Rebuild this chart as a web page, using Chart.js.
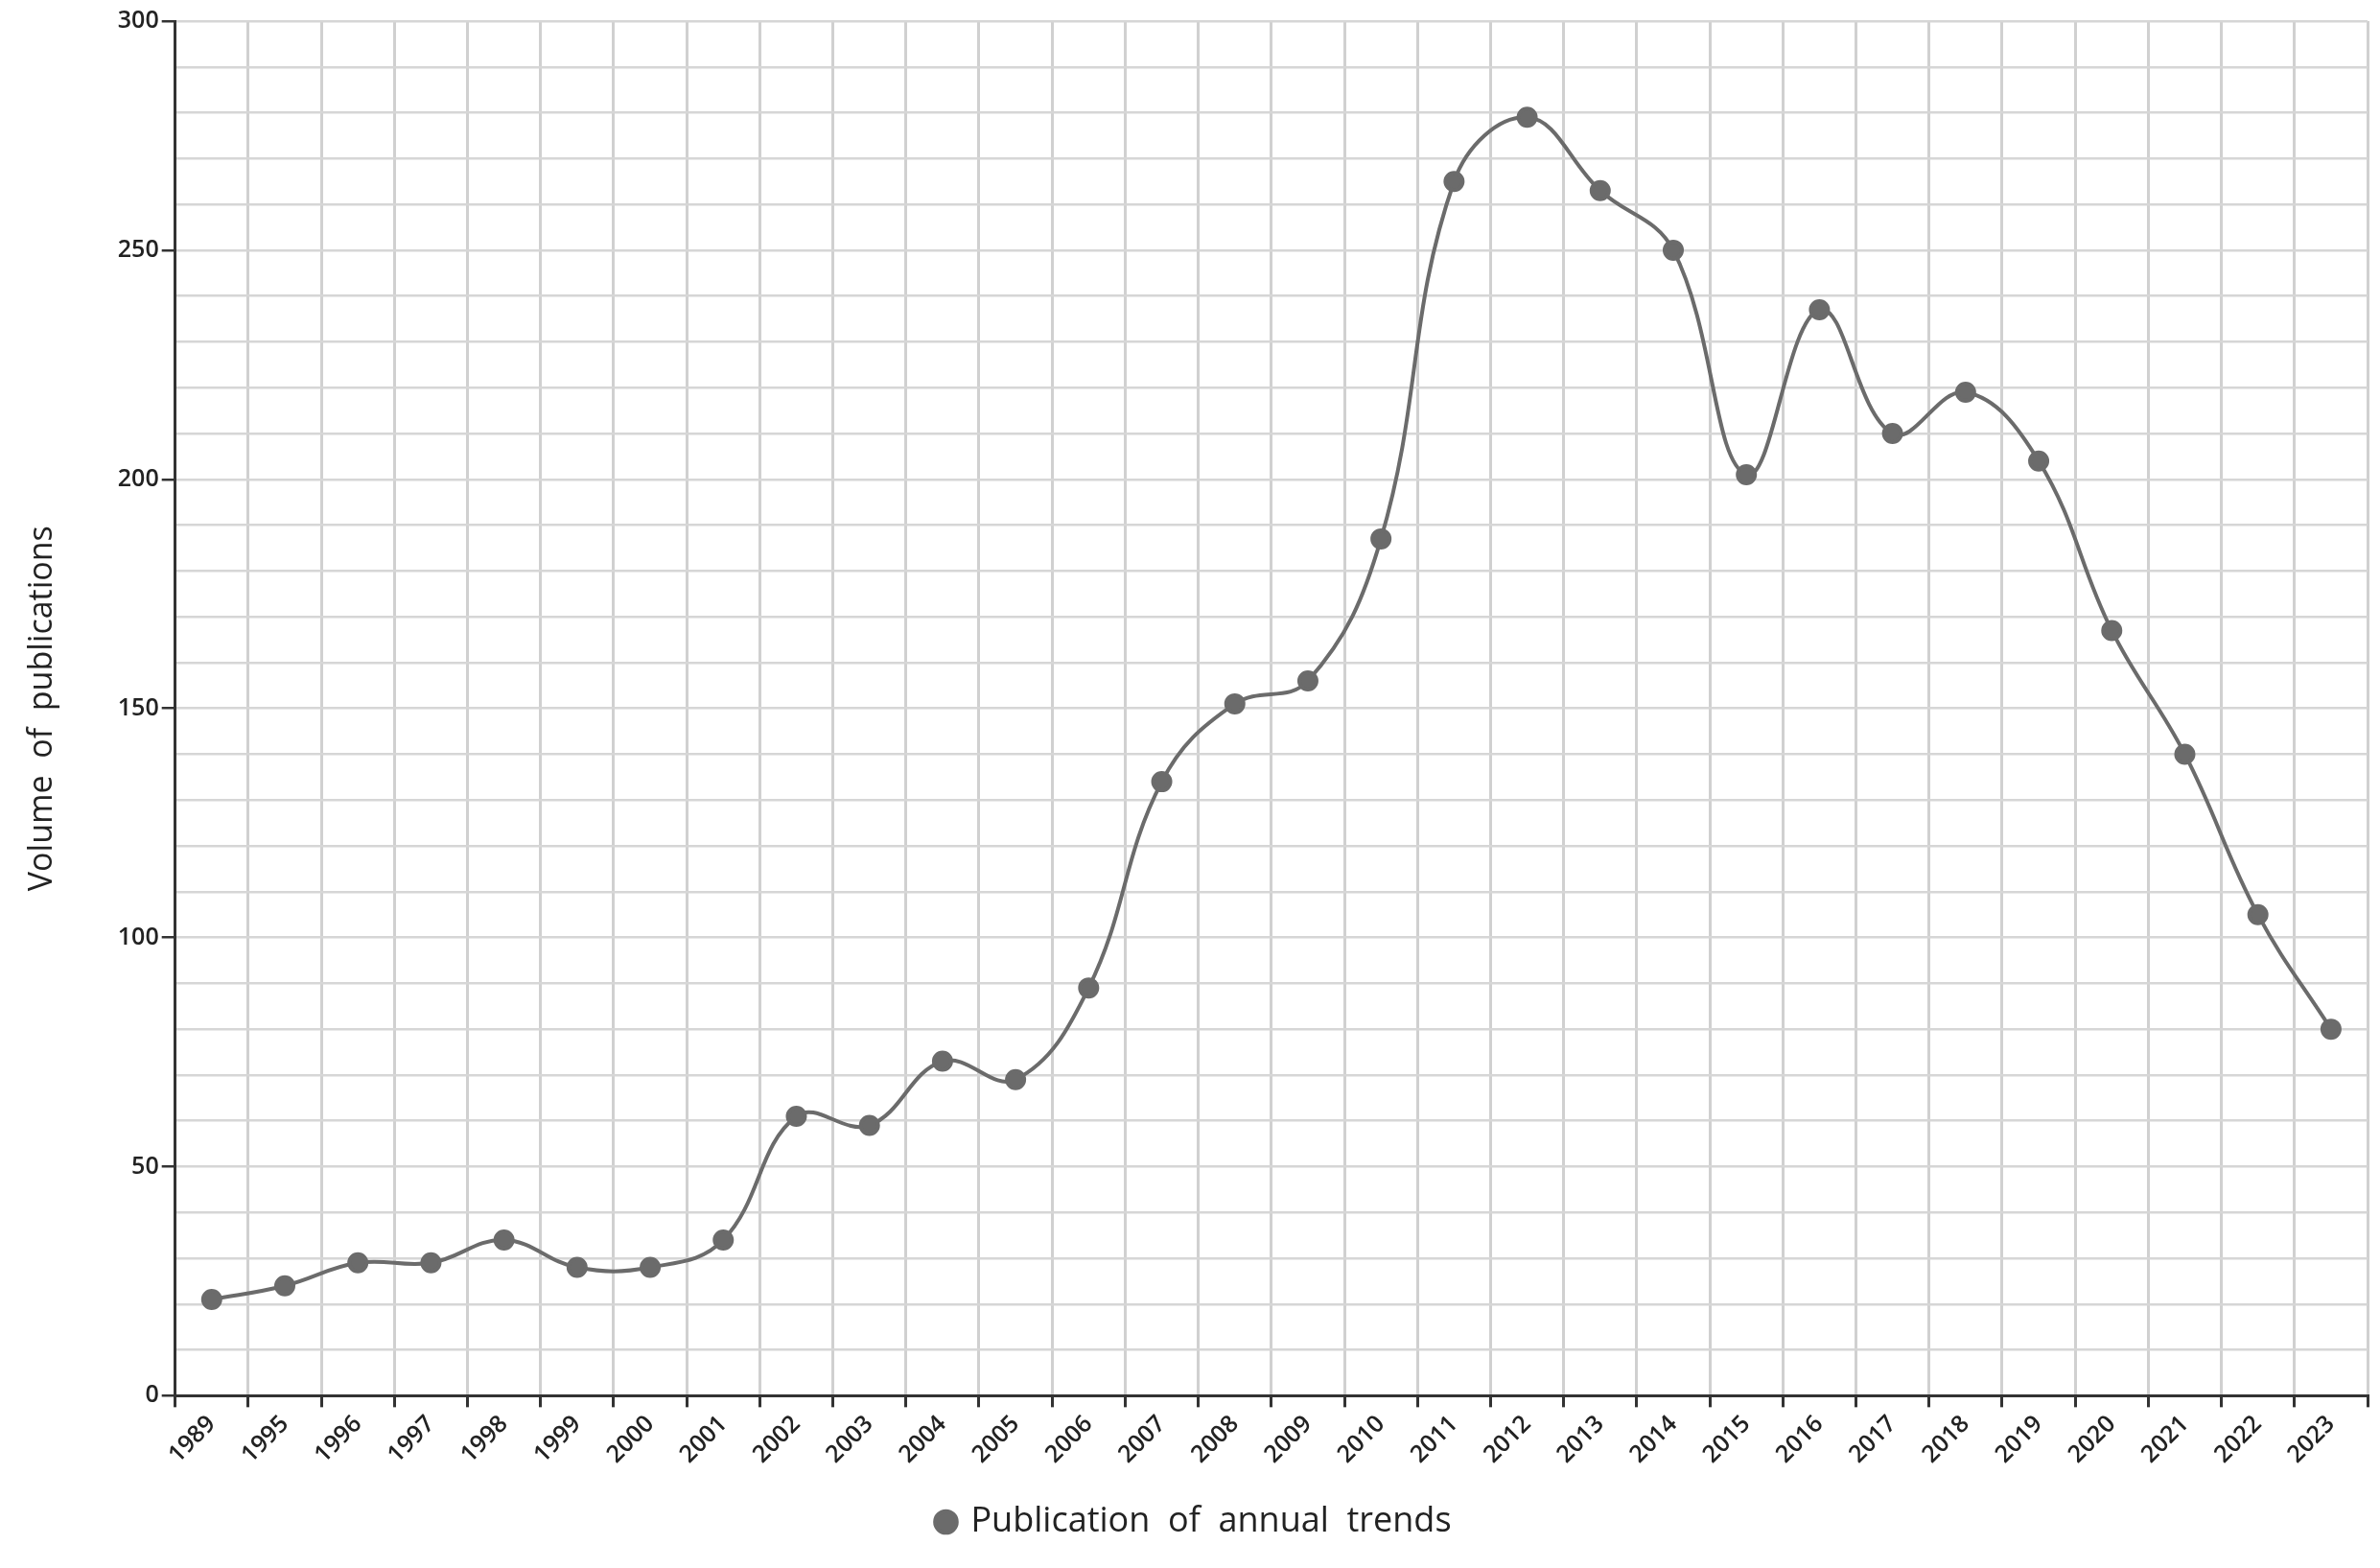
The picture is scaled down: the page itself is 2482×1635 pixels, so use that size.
<!DOCTYPE html>
<html><head><meta charset="utf-8">
<script src="https://cdn.jsdelivr.net/npm/chart.js@4"></script>
<style>html,body{margin:0;padding:0;background:#fff}</style>
</head><body>
<canvas id="c" width="2482" height="1635"></canvas>
<script>
const years = ['1989','1995','1996','1997','1998','1999','2000','2001','2002','2003','2004','2005','2006','2007','2008','2009','2010','2011','2012','2013','2014','2015','2016','2017','2018','2019','2020','2021','2022','2023'];
const publications = [21,24,29,29,34,28,28,34,61,59,73,69,89,134,151,156,187,265,279,263,250,201,237,210,219,204,167,140,105,80];
const seriesName = 'Publication  of  annual  trends';
const yTitle = 'Volume  of  publications';

new Chart(document.getElementById('c'), {
  type: 'line',
  data: { labels: years, datasets: [{
    label: seriesName, data: publications,
    borderColor: '#6b6b6b', backgroundColor: '#6b6b6b',
    borderWidth: 4, pointRadius: 9, pointHoverRadius: 9,
    tension: 0.4
  }]},
  options: {
    responsive: false, devicePixelRatio: 1, animation: false,
    layout: { padding: { top: 22, right: 10, left: 20, bottom: 20 } },
    plugins: {
      legend: { position: 'bottom', labels: { usePointStyle: true, pointStyle: 'circle', boxWidth: 16, boxHeight: 16, color: '#222', font: { family: 'Open Sans', size: 36 }, padding: 34 } },
      tooltip: { enabled: false }
    },
    scales: {
      x: {
        offset: true,
        grid: { color: '#d0d0d0', lineWidth: 3, offset: true, tickLength: 12, tickColor: '#333' },
        border: { color: '#333', width: 3 },
        ticks: { maxRotation: 45, minRotation: 45, color: '#222', font: { family: 'Open Sans', size: 25, weight: '600' } }
      },
      y: {
        min: 0, max: 300,
        grid: { color: '#d6d6d6', lineWidth: 2.5, tickLength: 14, tickColor: ctx => (ctx.tick && ctx.tick.value % 50 === 0) ? '#333' : 'rgba(0,0,0,0)' },
        border: { color: '#333', width: 3 },
        ticks: { stepSize: 10, autoSkip: false, color: '#222', font: { family: 'Open Sans', size: 25, weight: '600' },
          callback: v => v % 50 === 0 ? v : '' },
        title: { display: true, text: yTitle, color: '#222', font: { family: 'Open Sans', size: 34 }, padding: { bottom: 55 } }
      }
    }
  }
});
</script>
</body></html>
